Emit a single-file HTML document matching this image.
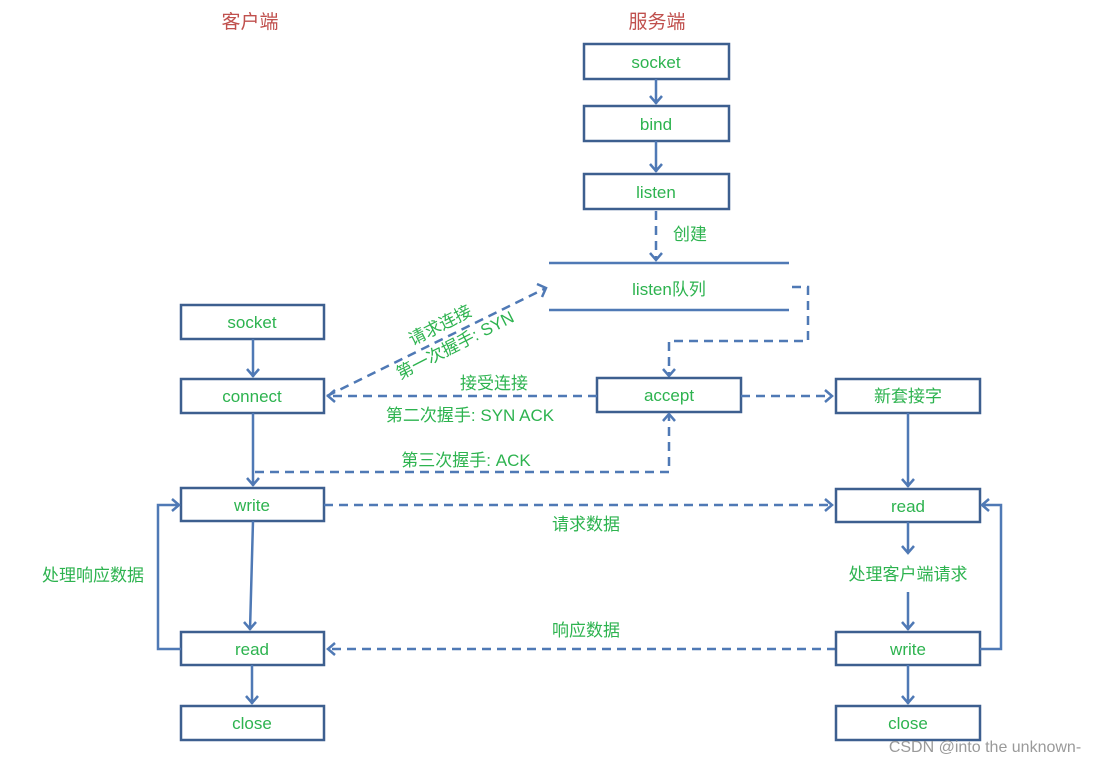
<!DOCTYPE html>
<html><head><meta charset="utf-8"><style>
html,body{margin:0;padding:0;background:#fff;}
svg{display:block;}
text{font-family:"Liberation Sans","Noto Sans CJK SC",sans-serif;}
.b{fill:#fff;stroke:#3d5f8f;stroke-width:2.5;}
.t{fill:#2db34f;font-size:17px;text-anchor:middle;}
.l{stroke:#4f79b5;stroke-width:2.5;fill:none;}
.d{stroke:#4f79b5;stroke-width:2.5;fill:none;stroke-dasharray:9,6;}
.a{stroke:#4f79b5;stroke-width:2.5;fill:none;}
</style></head><body>
<svg width="1113" height="762" viewBox="0 0 1113 762">
<text x="250" y="28" font-size="19" fill="#c0504d" text-anchor="middle">客户端</text>
<text x="657" y="28" font-size="19" fill="#c0504d" text-anchor="middle">服务端</text>

<!-- server top -->
<rect class="b" x="584" y="44" width="145" height="35"/><text class="t" x="656" y="68">socket</text>
<rect class="b" x="584" y="106" width="145" height="35"/><text class="t" x="656" y="130">bind</text>
<rect class="b" x="584" y="174" width="145" height="35"/><text class="t" x="656" y="198">listen</text>
<path class="l" d="M656 79V104M650 96l6 7 6-7"/>
<path class="l" d="M656 141V172M650 164l6 7 6-7"/>
<path class="d" d="M656 211V260"/><path class="a" d="M650 253l6 7 6-7"/>
<text class="t" x="690" y="240">创建</text>

<path class="l" d="M549 263H789M549 310H789"/>
<text class="t" x="669" y="295">listen队列</text>
<path class="d" d="M792 287H808V341H669V376"/><path class="a" d="M663 369l6 7 6-7"/>

<rect class="b" x="597" y="378" width="144" height="34"/><text class="t" x="669" y="401">accept</text>

<!-- client -->
<rect class="b" x="181" y="305" width="143" height="34"/><text class="t" x="252" y="328">socket</text>
<rect class="b" x="181" y="379" width="143" height="34"/><text class="t" x="252" y="402">connect</text>
<rect class="b" x="181" y="488" width="143" height="33"/><text class="t" x="252" y="511">write</text>
<rect class="b" x="181" y="632" width="143" height="33"/><text class="t" x="252" y="655">read</text>
<rect class="b" x="181" y="706" width="143" height="34"/><text class="t" x="252" y="729">close</text>
<path class="l" d="M253 339V377M247 369l6 7 6-7"/>
<path class="l" d="M253 413V486M247 478l6 7 6-7"/>
<path class="l" d="M253 521L250 630M244 622l6 7 6-7"/>
<path class="l" d="M252 665V704M246 696l6 7 6-7"/>
<path class="l" d="M181 649H158V505H179M172 499l7 6-7 6"/>
<text class="t" x="93" y="581">处理响应数据</text>

<!-- handshake -->
<path class="d" d="M327 396L546 288"/><path class="a" d="M537 284l9 4-4 9"/>
<path class="d" d="M597 396H328"/><path class="a" d="M335 390l-7 6 7 6"/>
<path class="d" d="M741 396H832"/><path class="a" d="M825 390l7 6-7 6"/>
<path class="d" d="M255 472H669V414"/><path class="a" d="M663 421l6-7 6 7"/>
<g transform="rotate(-27 440 325)"><text class="t" x="440" y="331">请求连接</text></g>
<g transform="rotate(-27 455 345)"><text class="t" x="455" y="351">第一次握手: SYN</text></g>
<text class="t" x="494" y="389">接受连接</text>
<text class="t" x="470" y="421">第二次握手: SYN ACK</text>
<text class="t" x="466" y="466">第三次握手: ACK</text>

<!-- data -->
<path class="d" d="M324 505H832"/><path class="a" d="M825 499l7 6-7 6"/>
<text class="t" x="586" y="530">请求数据</text>
<path class="d" d="M836 649H328"/><path class="a" d="M335 643l-7 6 7 6"/>
<text class="t" x="586" y="636">响应数据</text>

<!-- server right -->
<rect class="b" x="836" y="379" width="144" height="34"/><text class="t" x="908" y="402">新套接字</text>
<rect class="b" x="836" y="489" width="144" height="33"/><text class="t" x="908" y="512">read</text>
<rect class="b" x="836" y="632" width="144" height="33"/><text class="t" x="908" y="655">write</text>
<rect class="b" x="836" y="706" width="144" height="34"/><text class="t" x="908" y="729">close</text>
<path class="l" d="M908 413V487M902 479l6 7 6-7"/>
<path class="l" d="M908 522V553M902 546l6 7 6-7"/>
<text class="t" x="908" y="580">处理客户端请求</text>
<path class="l" d="M908 592V630M902 622l6 7 6-7"/>
<path class="l" d="M908 665V704M902 696l6 7 6-7"/>
<path class="l" d="M980 649H1001V505H982M989 499l-7 6 7 6"/>

<text x="985" y="752" font-size="16" fill="#9a9a9a" text-anchor="middle">CSDN @into the unknown-</text>
</svg>
</body></html>
